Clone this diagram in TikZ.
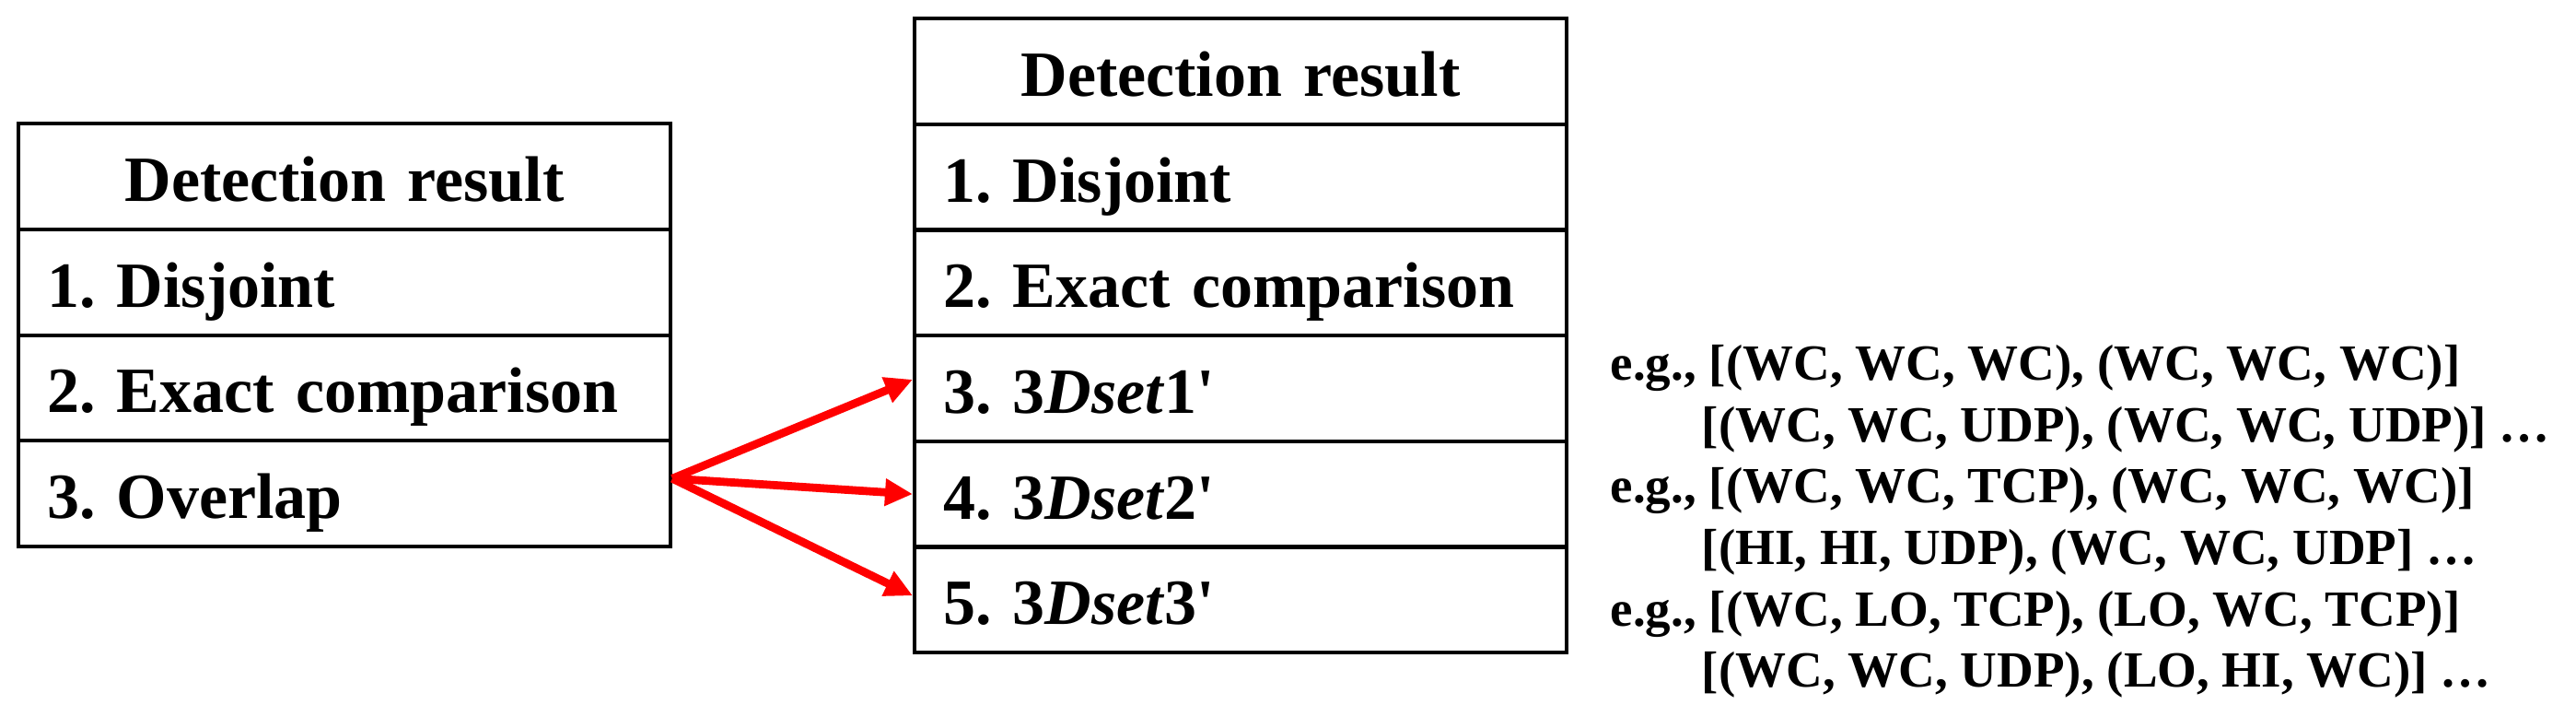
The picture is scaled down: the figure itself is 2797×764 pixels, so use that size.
\documentclass[tikz,border=0pt]{standalone}
\usepackage{fontspec}
\setmainfont{Liberation Serif}[Ligatures=TeXOff]
\usetikzlibrary{arrows.meta}
\frenchspacing

\begin{document}
\begin{tikzpicture}[x=0.25pt,y=0.25pt,yscale=-1,xscale=1,
  cell/.style={draw, line width=1pt, anchor=north west, text width=161.5pt, inner xsep=7.75pt, inner ysep=0pt, minimum height=28.7pt, text height=17.5pt, text depth=4pt, align=left, font=\fontsize{17.5}{21}\selectfont\bfseries},
  headcell/.style={cell, align=center},
  egtext/.style={anchor=base west, inner sep=0pt, font=\fontsize{13.75}{16.5}\selectfont\bfseries},
  redarrow/.style={draw=red, line width=2.2pt, -{Triangle[length=7.5pt,width=7pt]}}]
\useasboundingbox (0,0) rectangle (2797,764);

% Left table
\draw (18,132) node [headcell] (l0) {Detection result};
\draw (18,246.75) node [cell] (l1) {1. Disjoint};
\draw (18,361.5) node [cell] (l2) {2. Exact comparison};
\draw (18,476.25) node [cell] (l3) {3. Overlap};

% Right table
\draw (991,18) node [headcell] (r0) {Detection result};
\draw (991,132.7) node [cell] (r1) {1. Disjoint};
\draw (991,247.3) node [cell] (r2) {2. Exact comparison};
\draw (991,362) node [cell] (r3) {3. 3\textit{Dset}1'};
\draw (991,476.7) node [cell] (r4) {4. 3\textit{Dset}2'};
\draw (991,591.3) node [cell] (r5) {5. 3\textit{Dset}3'};

%Straight Lines
\coordinate (o) at ([yshift=-4.1pt]l3.east);
\draw [redarrow] (o) -- ([yshift=-2.4pt]r3.west);
\draw [redarrow] (o) -- (r4.west);
\draw [redarrow] (o) -- ([yshift=-1.1pt]r5.west);

% Text Node
\draw (1748,412) node [egtext] (eg1) {e.g., [(WC, WC, WC), (WC, WC, WC)]};
% Text Node
\draw (1847,479) node [egtext] (eg2) {[(WC, WC, UDP), (WC, WC, UDP)] …};
% Text Node
\draw (1748,545) node [egtext] (eg3) {e.g., [(WC, WC, TCP), (WC, WC, WC)]};
% Text Node
\draw (1847,612) node [egtext] (eg4) {[(HI, HI, UDP), (WC, WC, UDP] …};
% Text Node
\draw (1748,679) node [egtext] (eg5) {e.g., [(WC, LO, TCP), (LO, WC, TCP)]};
% Text Node
\draw (1847,745) node [egtext] (eg6) {[(WC, WC, UDP), (LO, HI, WC)] …};

\end{tikzpicture}
\end{document}
